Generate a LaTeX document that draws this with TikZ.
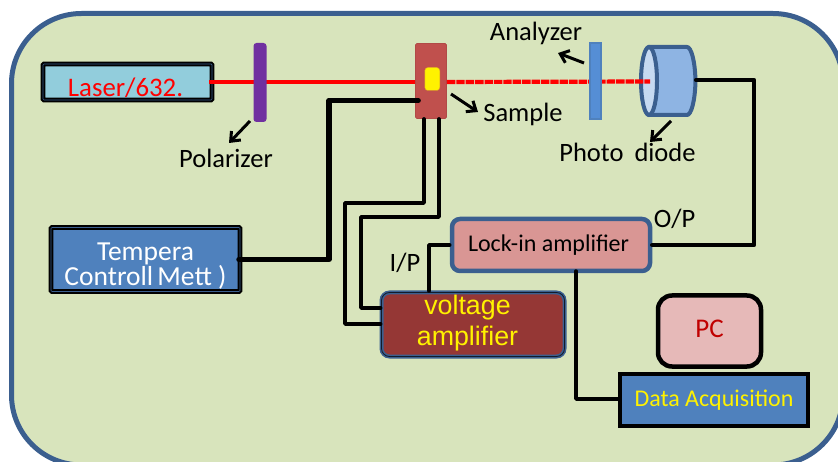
\documentclass[tikz,border=0pt]{standalone}
\usepackage{fontspec}
\setmainfont{Carlito}
\newfontfamily\arialf{Liberation Sans}
\usetikzlibrary{arrows.meta}
\definecolor{bgfill}{HTML}{D8E4BC}
\definecolor{navy}{HTML}{3B5F8F}
\definecolor{lasercol}{HTML}{92CDDC}
\definecolor{boxblue}{HTML}{4F81BD}
\definecolor{samplecol}{HTML}{C0504D}
\definecolor{polcol}{HTML}{7030A0}
\definecolor{lockcol}{HTML}{D99694}
\definecolor{pccol}{HTML}{E6B9B8}
\definecolor{ampcol}{HTML}{953735}
\definecolor{anacol}{HTML}{558ED5}
\definecolor{pdbody}{HTML}{8EB4E3}
\definecolor{pdend}{HTML}{C6D9F1}
\definecolor{pcred}{HTML}{C00000}
\newcommand{\fs}[1]{\fontsize{#1}{#1}\selectfont}
\tikzset{
  boxbase/.style={inner sep=0pt,align=center},
  dbl/.style={boxbase,rectangle,draw=black,line width=2pt,double=navy,double distance=0.7pt,rounded corners=1pt},
  thickbox/.style={boxbase,draw=black,line width=4.5pt},
  wire/.style={draw=black,line cap=round,line join=round},
  beam/.style={draw=red,line width=4.2pt},
  pointer/.style={draw=black,line width=3pt,-{Straight Barb[length=8pt,width=13pt,line width=3pt]}},
  lab/.style={anchor=base,inner sep=0pt,font=\fs{26.5}},
}
\begin{document}
\begin{tikzpicture}[x=1pt,y=-1pt]
\useasboundingbox (0,0) rectangle (838,462);
\begin{scope}
\clip (0,0) rectangle (838,462);
\draw[fill=bgfill,draw=navy,line width=5pt,rounded corners=70pt] (11.5,13.5) rectangle (843,465);
\end{scope}

% laser and sample
\node[dbl,fill=lasercol,minimum width=169pt,minimum height=36pt,text=red,font=\fs{26.8}] (laser) at (127.5,82) {\raisebox{-14.7pt}[0pt][0pt]{\hspace{-4pt}Laser/632.}};
\node[boxbase,draw=samplecol!92!black,fill=samplecol,line width=0.8pt,rounded corners=1.5pt,minimum width=31pt,minimum height=75pt] (sample) at (431,81) {};
\node[boxbase,fill=yellow,draw=samplecol!60!yellow,line width=0.4pt,rounded corners=3pt,minimum width=15pt,minimum height=23pt] (chip) at (432.3,79) {};

% first beam, under the polarizer
\draw[beam] ([xshift=-4pt]laser.east) -- (sample.west |- laser.east);
\node[boxbase,fill=polcol,rounded corners=3pt,minimum width=13pt,minimum height=79pt] (polarizer) at (260,82.5) {};

% photodiode
\node[boxbase,minimum width=58pt,minimum height=70pt] (diode) at (668,81) {};
\draw[fill=pdbody,draw=navy,line width=4pt,line join=round]
  (648.5,47) -- (687,47) .. controls (691,47) and (695,60) .. (695.5,81) .. controls (695,102) and (691,115) .. (687,115) -- (648.5,115) -- cycle;
\draw[fill=pdend,draw=navy,line width=4pt] (649,81) ellipse [x radius=8pt,y radius=34pt];

% second beam, under the analyzer
\draw[beam,dash pattern=on 8.4pt off 1pt] (sample.east |- laser.east) -- (650,81.5) coordinate (beamend);
\node[boxbase,fill=anacol,draw=boxblue,line width=2pt,minimum width=11pt,minimum height=76pt] (analyzer) at (595,81) {};

% boxes
\node[dbl,fill=boxblue,minimum width=189pt,minimum height=64pt,text=white,font=\fontsize{27.5}{23.3}\selectfont] (temp) at (145.5,259.5) {\raisebox{-26.5pt}[0pt][0pt]{\parbox[b]{189pt}{\centering Tempera\\Controll\hspace{-2pt} Mett )}}};
\node[boxbase,draw=navy,fill=lockcol,line width=4.5pt,rounded corners=8pt,minimum width=198pt,minimum height=52pt,font=\fs{24}] (lockin) at (551,245) {\raisebox{-6.7pt}[0pt][0pt]{\makebox[198pt][l]{\hspace{16pt}Lock-in amplifier}}};
\node[boxbase,rectangle,draw=navy,line width=1.6pt,double=black!70!navy,double distance=0.8pt,fill=ampcol,rounded corners=8pt,minimum width=183pt,minimum height=64pt,text=yellow,font=\arialf\fontsize{26.8}{30.7}\selectfont] (amp) at (473,324.5) {\raisebox{-21.2pt}[0pt][0pt]{\makebox[183pt][l]{\parbox[b]{172pt}{\centering voltage\\amplifier}}}};
\node[thickbox,fill=pccol,rounded corners=14pt,minimum width=103pt,minimum height=71pt,text=pcred,font=\fs{27}] (pc) at (709.5,331) {\raisebox{-6pt}[0pt][0pt]{PC}};
\node[thickbox,fill=boxblue,minimum width=188pt,minimum height=52pt,text=yellow,font=\fs{24}] (daq) at (714,400) {\raisebox{-6.7pt}[0pt][0pt]{Data Acquisition}};

% wiring
\draw[wire,line width=5.5pt] ([xshift=-2pt]temp.east) -- (329,259.5) -- (329,100.5) -- ([xshift=3pt,yshift=-19.5pt]sample.west);
\draw[wire,line width=3.5pt] ([xshift=-7pt]sample.south) -- (424,203) -- (345,203) -- (345,324) -- (amp.west |- 0,324);
\draw[wire,line width=3.5pt] ([xshift=8pt]sample.south) -- (439,217) -- (361,217) -- (361,308) -- (amp.west |- 0,308);
\draw[wire,line width=4.5pt] ([xshift=-1pt,yshift=1pt]diode.east) -- (754,80) -- (754,245) -- (lockin.east);
\draw[wire,line width=3.5pt] (lockin.west) -- (429,245) -- (429,291);
\draw[wire,line width=3.5pt] (576,271) -- (576,399) -- (daq.west |- 0,399);

% text labels
\node[lab] (tpol) at (226,168) {Polarizer};
\node[lab] (tana) at (536,41) {Analyzer};
\node[lab] (tsam) at (523,122) {Sample};
\node[lab] (tpd) at (627.5,162) {Photo\hspace{5pt} diode};
\node[lab] (top) at (674.5,228) {O/P};
\node[lab] (tip) at (405,271.5) {I/P};

% pointers
\coordinate (p1a) at (250,121); \coordinate (p1b) at (229,143);
\coordinate (p2a) at (451,94);  \coordinate (p2b) at (478,112);
\coordinate (p3a) at (584,63);  \coordinate (p3b) at (558,53);
\coordinate (p4a) at (671,121); \coordinate (p4b) at (650,142);
\draw[pointer] (p1a) -- (p1b);
\draw[pointer] (p2a) -- (p2b);
\draw[pointer] (p3a) -- (p3b);
\draw[pointer] (p4a) -- (p4b);
\end{tikzpicture}
\end{document}
